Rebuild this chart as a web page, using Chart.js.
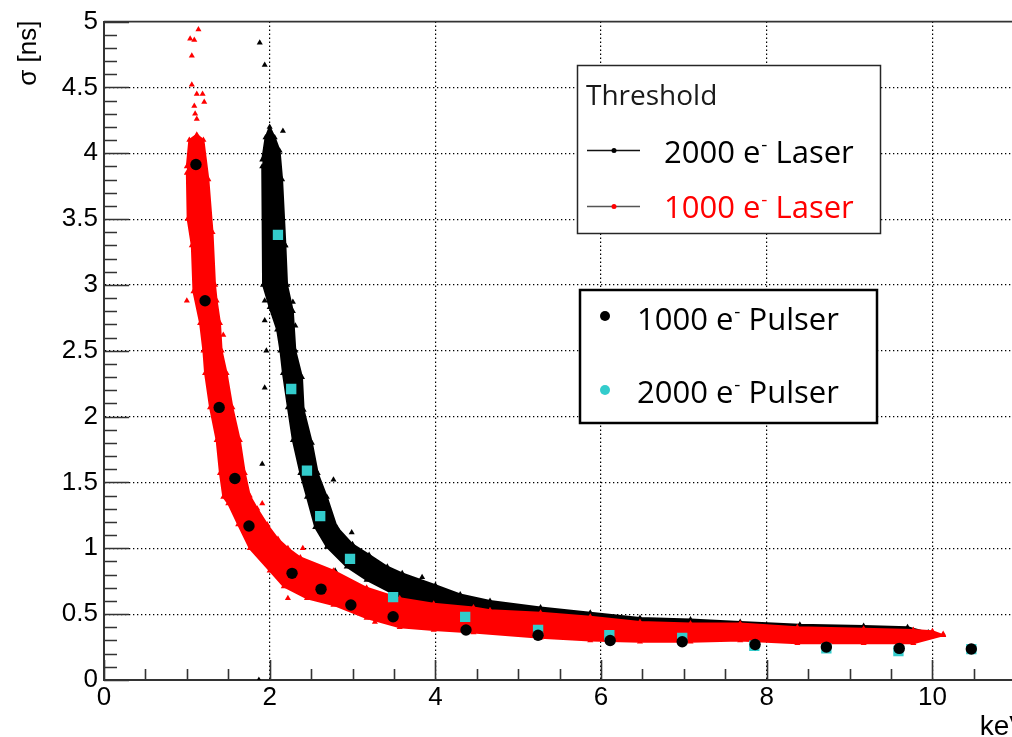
<!DOCTYPE html>
<html>
<head>
<meta charset="utf-8">
<script src="https://cdn.jsdelivr.net/npm/chart.js@4.4.1/dist/chart.umd.min.js"></script>
<style>
  html, body { margin: 0; padding: 0; background: #fff; overflow: hidden; }
  #wrap { position: relative; width: 1040px; height: 737px; }
</style>
</head>
<body>
<div id="wrap"><canvas id="c" width="1040" height="737"></canvas></div>
<script>
// ---- axes ----
const xTicks = [0, 2, 4, 6, 8, 10];
const yTicks = [0, 0.5, 1, 1.5, 2, 2.5, 3, 3.5, 4, 4.5, 5];
const yTickLabels = ['0', '0.5', '1', '1.5', '2', '2.5', '3', '3.5', '4', '4.5', '5'];
const xMin = 0, xMax = 11.13, yMin = 0, yMax = 5;
const xTitle = 'keV';
const yTitle = 'σ [ns]';

// ---- pulser scans (energy [keV], sigma [ns]) ----
const pulser1000X = [1.11, 1.22, 1.39, 1.58, 1.75, 2.27, 2.62, 2.98, 3.49, 4.37, 5.24, 6.11, 6.98, 7.86, 8.72, 9.60, 10.47];
const pulser1000Y = [3.915, 2.88, 2.07, 1.53, 1.17, 0.81, 0.69, 0.57, 0.48, 0.38, 0.34, 0.30, 0.29, 0.27, 0.25, 0.24, 0.235];
const pulser2000X = [2.10, 2.26, 2.45, 2.61, 2.97, 3.49, 4.36, 5.24, 6.10, 6.98, 7.85, 8.72, 9.59, 10.47];
const pulser2000Y = [3.38, 2.21, 1.59, 1.245, 0.92, 0.63, 0.48, 0.38, 0.34, 0.32, 0.26, 0.24, 0.22, 0.235];

// ---- laser scan, 2000 e- threshold: outline of the dense band + isolated events ----
const laser2000UpperX = [1.91, 1.95, 2.00, 2.06, 2.12, 2.15, 2.19, 2.21, 2.28, 2.31, 2.39, 2.41, 2.51, 2.58, 2.69, 2.81, 3.00, 3.20, 3.42, 3.60, 4.00, 4.30, 4.66, 5.27, 5.87, 6.47, 7.08, 7.68, 8.40, 9.17, 9.70, 9.95];
const laser2000UpperY = [3.95, 4.12, 4.20, 4.12, 4.02, 3.80, 3.30, 3.00, 2.80, 2.50, 2.30, 2.05, 1.80, 1.57, 1.39, 1.16, 1.03, 0.95, 0.86, 0.81, 0.72, 0.65, 0.60, 0.55, 0.51, 0.47, 0.46, 0.44, 0.42, 0.41, 0.40, 0.36];
const laser2000LowerX = [1.91, 1.92, 2.00, 2.09, 2.13, 2.16, 2.22, 2.28, 2.37, 2.45, 2.55, 2.69, 2.93, 3.17, 3.57, 3.98, 4.46, 5.00, 6.00, 7.00, 8.00, 9.00, 9.95];
const laser2000LowerY = [3.90, 3.00, 2.83, 2.66, 2.50, 2.33, 2.07, 1.82, 1.57, 1.39, 1.16, 1.01, 0.86, 0.76, 0.63, 0.58, 0.53, 0.48, 0.42, 0.38, 0.36, 0.35, 0.34];
const laser2000StrayX = [1.88, 1.94, 2.16, 1.94, 1.94, 1.96, 1.94, 1.91, 2.27, 2.60, 2.56, 1.87, 2.77, 2.99, 2.79, 3.84, 2.19, 2.28, 2.31];
const laser2000StrayY = [4.84, 4.67, 4.17, 2.88, 2.73, 2.50, 2.22, 1.64, 2.63, 1.46, 1.59, 0.00, 1.52, 1.12, 0.83, 0.78, 3.30, 2.87, 2.69];

// ---- laser scan, 1000 e- threshold ----
const laser1000UpperX = [1.00, 1.03, 1.12, 1.20, 1.26, 1.31, 1.34, 1.36, 1.40, 1.42, 1.48, 1.55, 1.64, 1.70, 1.76, 1.85, 1.97, 2.10, 2.22, 2.37, 2.77, 3.17, 3.57, 3.98, 4.46, 4.66, 5.27, 5.87, 6.47, 7.08, 7.68, 8.37, 9.17, 9.77, 10.00, 10.13];
const laser1000UpperY = [3.90, 4.10, 4.14, 4.10, 3.80, 3.40, 3.00, 2.88, 2.71, 2.50, 2.33, 2.07, 1.82, 1.57, 1.40, 1.30, 1.18, 1.07, 1.00, 0.93, 0.83, 0.70, 0.62, 0.58, 0.55, 0.53, 0.51, 0.48, 0.44, 0.43, 0.43, 0.40, 0.39, 0.38, 0.37, 0.34];
const laser1000LowerX = [1.00, 1.01, 1.06, 1.08, 1.16, 1.20, 1.22, 1.28, 1.36, 1.40, 1.44, 1.50, 1.62, 1.76, 2.00, 2.17, 2.45, 2.77, 3.17, 3.57, 3.98, 4.46, 5.27, 5.87, 6.47, 7.08, 7.68, 8.37, 9.17, 9.77, 10.13];
const laser1000LowerY = [3.85, 3.50, 3.30, 2.95, 2.71, 2.50, 2.33, 2.07, 1.82, 1.57, 1.39, 1.34, 1.18, 1.00, 0.83, 0.71, 0.62, 0.57, 0.47, 0.40, 0.38, 0.36, 0.32, 0.30, 0.29, 0.29, 0.30, 0.28, 0.28, 0.28, 0.34];
const laser1000StrayX = [1.14, 1.04, 1.09, 1.06, 1.06, 1.12, 1.19, 1.21, 1.09, 1.10, 1.12, 1.00, 1.44, 1.91, 2.40, 2.22, 3.27, 10.13];
const laser1000StrayY = [4.94, 4.87, 4.86, 4.74, 4.52, 4.45, 4.45, 4.39, 4.36, 4.30, 4.26, 2.88, 2.62, 1.34, 1.00, 0.62, 0.44, 0.35];

// ---- legend texts ----
const thresholdTitle = 'Threshold';
const laserLegend = [
  { base: '2000 e', sup: '-', rest: ' Laser', text: '#000', line: '#111', mark: '#000' },
  { base: '1000 e', sup: '-', rest: ' Laser', text: '#ff0000', line: '#555', mark: '#ff0000' }
];
const pulserLegend = [
  { base: '1000 e', sup: '-', rest: ' Pulser', mark: '#000' },
  { base: '2000 e', sup: '-', rest: ' Pulser', mark: 'rgb(51,204,204)' }
];

const RED = '#ff0000';
const BLACK = '#000000';
const CYAN = 'rgb(51,204,204)';

const pts = (xs, ys) => xs.map((x, i) => ({ x, y: ys[i] }));

// outline of a dense band of laser events; vertices carry the event marker
function band(xs, ys, colour, order, fillTarget) {
  return {
    type: 'line',
    data: pts(xs, ys),
    borderColor: colour,
    backgroundColor: colour,
    borderWidth: 2,
    pointStyle: 'triangle',
    pointRadius: 3.5,
    pointBorderWidth: 0,
    pointBackgroundColor: colour,
    tension: 0,
    fill: fillTarget === undefined ? false : fillTarget,
    order
  };
}

const datasets = [];
// index 0: 1000 e- pulser (topmost)
datasets.push({ type: 'scatter', data: pts(pulser1000X, pulser1000Y), pointStyle: 'circle', pointRadius: 5.7,
  backgroundColor: BLACK, borderColor: BLACK, borderWidth: 0, order: 1 });
// index 1: 2000 e- pulser
datasets.push({ type: 'scatter', data: pts(pulser2000X, pulser2000Y), pointStyle: 'rect', pointRadius: 7.3,
  backgroundColor: CYAN, borderColor: CYAN, borderWidth: 0, order: 2 });
// index 2: 1000 e- laser isolated events
datasets.push({ type: 'scatter', data: pts(laser1000StrayX, laser1000StrayY), pointStyle: 'triangle', pointRadius: 3.5,
  backgroundColor: RED, borderColor: RED, borderWidth: 0, order: 3 });
// index 3/4: 1000 e- laser band
datasets.push(band(laser1000UpperX, laser1000UpperY, RED, 5));
datasets.push(band(laser1000LowerX, laser1000LowerY, RED, 4, 3));
// index 5: 2000 e- laser isolated events
datasets.push({ type: 'scatter', data: pts(laser2000StrayX, laser2000StrayY), pointStyle: 'triangle', pointRadius: 3.5,
  backgroundColor: BLACK, borderColor: BLACK, borderWidth: 0, order: 6 });
// index 6/7: 2000 e- laser band
datasets.push(band(laser2000UpperX, laser2000UpperY, BLACK, 8));
datasets.push(band(laser2000LowerX, laser2000LowerY, BLACK, 7, 6));

// inside-pointing major/minor ticks, top frame line and axis titles
const frameTicks = {
  id: 'frameTicks',
  afterDatasetsDraw(chart) {
    const { ctx, chartArea: a, scales: { x, y } } = chart;
    ctx.save();
    ctx.strokeStyle = '#333';
    ctx.lineWidth = 1.6;
    ctx.beginPath();
    ctx.moveTo(a.left, a.top); ctx.lineTo(a.right, a.top);
    for (let i = 0; i <= Math.floor(xMax * 2); i++) {
      const v = i / 2;
      const px = Math.round(x.getPixelForValue(v)) + 0.5;
      const len = (i % 4 === 0) ? 20 : 11;
      ctx.moveTo(px, a.bottom); ctx.lineTo(px, a.bottom - len);
    }
    for (let i = 0; i <= 50; i++) {
      const v = i / 10;
      const py = Math.round(y.getPixelForValue(v)) + 0.5;
      const len = (i % 5 === 0) ? 25 : 13;
      ctx.moveTo(a.left, py); ctx.lineTo(a.left + len, py);
    }
    ctx.stroke();
    ctx.restore();
  },
  afterDraw(chart) {
    const { ctx, chartArea: a } = chart;
    ctx.save();
    ctx.fillStyle = '#000';
    ctx.font = '26px "Liberation Sans", Arial, sans-serif';
    ctx.translate(36, a.top - 1);
    ctx.rotate(-Math.PI / 2);
    ctx.textAlign = 'right';
    ctx.textBaseline = 'alphabetic';
    ctx.fillText(yTitle, 0, 0);
    ctx.restore();
    ctx.save();
    ctx.fillStyle = '#000';
    ctx.font = '28px "Liberation Sans", Arial, sans-serif';
    ctx.textAlign = 'right';
    ctx.textBaseline = 'alphabetic';
    ctx.fillText(xTitle, a.right + 2, 735);
    ctx.restore();
  }
};

function supText(ctx, x, y, item, size, colour) {
  const fam = '"Open Sans", "Liberation Sans", sans-serif';
  ctx.fillStyle = colour;
  ctx.textAlign = 'left';
  ctx.textBaseline = 'alphabetic';
  ctx.font = size + 'px ' + fam;
  ctx.fillText(item.base, x, y);
  x += ctx.measureText(item.base).width + 1;
  ctx.font = Math.round(size * 0.62) + 'px ' + fam;
  ctx.fillText(item.sup, x, y - size * 0.40);
  x += ctx.measureText(item.sup).width;
  ctx.font = size + 'px ' + fam;
  ctx.fillText(item.rest, x, y);
}

// the two legend boxes
const legendBoxes = {
  id: 'legendBoxes',
  afterDraw(chart) {
    const ctx = chart.ctx;
    ctx.save();
    ctx.fillStyle = '#fff';
    ctx.fillRect(577, 65, 304, 169);
    ctx.strokeStyle = '#262626';
    ctx.lineWidth = 1.5;
    ctx.strokeRect(577.5, 65.5, 303, 168);
    ctx.fillStyle = '#1a1a1a';
    ctx.font = '28px "Open Sans", "Liberation Sans", sans-serif';
    ctx.textBaseline = 'alphabetic';
    ctx.fillText(thresholdTitle, 586, 105);
    const rowsY = [150, 206];
    const baseY = [163, 218];
    laserLegend.forEach((it, i) => {
      ctx.strokeStyle = it.line;
      ctx.lineWidth = 1.5;
      ctx.beginPath();
      ctx.moveTo(587, rowsY[i] + 0.5); ctx.lineTo(640, rowsY[i] + 0.5);
      ctx.stroke();
      ctx.fillStyle = it.mark;
      ctx.beginPath();
      ctx.arc(614, rowsY[i] + 0.5, 2.5, 0, Math.PI * 2);
      ctx.fill();
      supText(ctx, 664, baseY[i], it, 31, it.text);
    });
    ctx.fillStyle = '#fff';
    ctx.fillRect(579, 289, 299, 135);
    ctx.strokeStyle = '#000';
    ctx.lineWidth = 2.5;
    ctx.strokeRect(580, 290, 297, 133);
    const dotY = [316, 390];
    const pBase = [330, 403];
    pulserLegend.forEach((it, i) => {
      ctx.fillStyle = it.mark;
      ctx.beginPath();
      ctx.arc(605, dotY[i], 5, 0, Math.PI * 2);
      ctx.fill();
      supText(ctx, 637, pBase[i], it, 31, '#000');
    });
    ctx.restore();
  }
};

const tickFont = { family: '"Liberation Sans", Arial, sans-serif', size: 26 };

new Chart(document.getElementById('c'), {
  type: 'scatter',
  data: { datasets },
  options: {
    responsive: false,
    devicePixelRatio: 1,
    animation: false,
    layout: { padding: { top: 21, right: 14, left: 0, bottom: 0 } },
    plugins: { legend: { display: false }, tooltip: { enabled: false } },
    scales: {
      x: {
        type: 'linear', min: xMin, max: xMax,
        afterBuildTicks: s => { s.ticks = xTicks.map(v => ({ value: v })); },
        afterFit: s => { s.height = 57; },
        ticks: { font: tickFont, color: '#000', padding: 2, maxRotation: 0, autoSkip: false,
          callback: v => String(v) },
        grid: { color: ctx => (ctx.tick && ctx.tick.value === 0) ? 'rgba(0,0,0,0)' : '#000',
          lineWidth: 1.2, drawTicks: false },
        border: { display: true, color: '#333', width: 2, dash: [1.3, 2.7] }
      },
      y: {
        type: 'linear', min: yMin, max: yMax,
        afterBuildTicks: s => { s.ticks = yTicks.map(v => ({ value: v })); },
        afterFit: s => { s.width = 104; },
        ticks: { font: tickFont, color: '#000', padding: 6, autoSkip: false,
          callback: (v) => yTickLabels[yTicks.indexOf(v)] },
        grid: { color: ctx => (ctx.tick && (ctx.tick.value === 0 || ctx.tick.value === 5)) ? 'rgba(0,0,0,0)' : '#000',
          lineWidth: 1.2, drawTicks: false },
        border: { display: true, color: '#333', width: 2, dash: [1.3, 2.7] }
      }
    }
  },
  plugins: [frameTicks, legendBoxes]
});
</script>
</body>
</html>
